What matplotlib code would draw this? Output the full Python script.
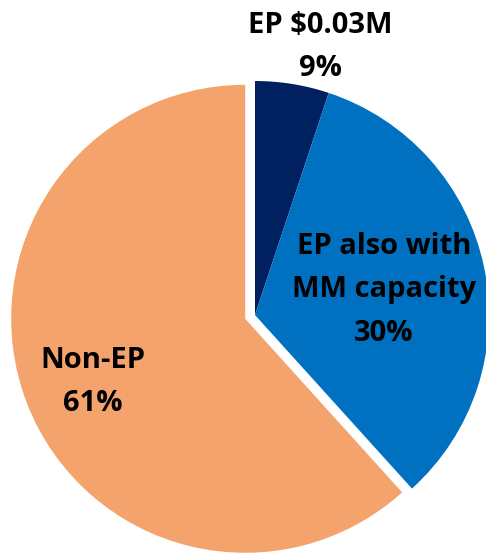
import matplotlib
matplotlib.use("Agg")
import matplotlib.pyplot as plt

categories = ["EP $0.03M", "EP also with MM capacity", "Non-EP"]
slice_values = [5.1, 33.2, 61.7]
label_texts = ["EP $0.03M\n9%", "EP also with\nMM capacity\n30%", "Non-EP\n61%"]
colors = ["#002060", "#0070C0", "#F4A36C"]

W, H = 486, 553
fig = plt.figure(figsize=(W / 100, H / 100), dpi=100)
ax = fig.add_axes([0, 0, 1, 1])

cx, cy, r = 255, H - 315, 234
explode = [0, 0, 0.045 * r]
ax.pie(slice_values, colors=colors, explode=explode, startangle=90,
       counterclock=False, center=(cx, cy), radius=r,
       wedgeprops=dict(linewidth=0))
ax.set_xlim(0, W)
ax.set_ylim(0, H)
ax.set_aspect("equal")
ax.axis("off")

label_pos = [(320, 47), (384, 290), (93, 382)]
for txt, (x, y) in zip(label_texts, label_pos):
    ax.text(x, H - y, txt, ha="center", va="center", fontsize=21,
            fontweight="bold", family="Open Sans", linespacing=1.65,
            color="black")

fig.savefig("out.png", dpi=100)
